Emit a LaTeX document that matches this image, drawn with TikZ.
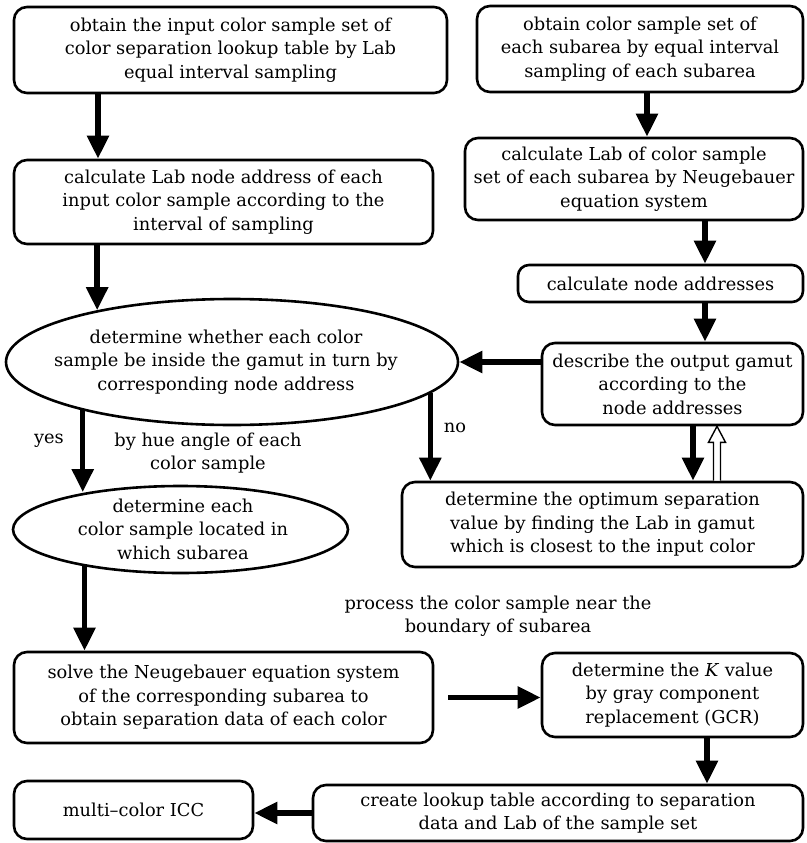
\documentclass[tikz,border=0pt]{standalone}
\usepackage{fontspec}
\setmainfont{DejaVu Serif}
\usetikzlibrary{shapes.geometric,arrows.meta,calc}
\begin{document}
\begin{tikzpicture}[x=1pt,y=-1pt,
  txt/.style={font=\fontsize{17.8}{23.5}\selectfont},
  box/.style={txt, draw, line width=2.6pt, rounded corners=13pt, align=center, inner sep=0pt},
  oval/.style={draw, ellipse, line width=2.6pt, inner sep=0pt},
  arr/.style={line width=5.5pt, -{Triangle[length=23pt,width=21pt]}},
  lbl/.style={txt, align=center, inner sep=0pt}]
\useasboundingbox (0,0) rectangle (806,843);

% nodes
\node[box, minimum width=433pt, minimum height=86pt] (A) at (230.5,50)
  {obtain the input color sample set of\\color separation lookup table by Lab\\equal interval sampling};
\node[box, minimum width=326pt, minimum height=86pt] (B) at (640,49)
  {obtain color sample set of\\each subarea by equal interval\\sampling of each subarea};
\node[box, minimum width=419pt, minimum height=84pt] (C) at (223.5,202)
  {calculate Lab node address of each\\input color sample according to the\\interval of sampling};
\node[box, minimum width=338pt, minimum height=82pt] (D) at (634,179)
  {calculate Lab of color sample\\set of each subarea by Neugebauer\\equation system};
\node[box, minimum width=285pt, minimum height=37pt, rounded corners=11pt] (E) at (660.5,283.5)
  {calculate node addresses};
\node[oval, minimum width=452pt, minimum height=126pt] (F) at (232,362) {};
\node[lbl] (Ft) at (226,362)
  {determine whether each color\\sample be inside the gamut in turn by\\corresponding node address};
\node[box, minimum width=261pt, minimum height=82pt] (G) at (672.5,384)
  {describe the output gamut\\according to the\\node addresses};
\node[box, minimum width=401pt, minimum height=85pt] (H) at (602.5,524.5)
  {determine the optimum separation\\value by finding the Lab in gamut\\which is closest to the input color};
\node[oval, minimum width=335pt, minimum height=87pt] (I) at (180.5,529.5) {};
\node[lbl] (It) at (183,529)
  {determine each\\color sample located in\\which subarea};
\node[box, minimum width=419pt, minimum height=91pt] (J) at (223.5,697.5)
  {solve the Neugebauer equation system\\of the corresponding subarea to\\obtain separation data of each color};
\node[box, minimum width=261pt, minimum height=84pt] (K) at (672.5,695)
  {determine the \textit{K} value\\by gray component\\replacement (GCR)};
\node[box, minimum width=490pt, minimum height=56pt] (L) at (558,813)
  {create lookup table according to separation\\data and Lab of the sample set};
\node[box, minimum width=239pt, minimum height=58pt] (M) at (133.5,810)
  {multi--color ICC};

% labels
\node[lbl] (yes) at (49,441) {yes};
\node[lbl] (hue) at (208,453) {by hue angle of each\\color sample};
\node[lbl] (no) at (455,428) {no};
\node[lbl] (proc) at (498,616) {process the color sample near the\\boundary of subarea};

% helper x positions
\coordinate (xa) at (98,0);
\coordinate (xb) at (647,0);
\coordinate (xr) at (705,0);
\coordinate (xf) at (693,0);
\coordinate (xh) at (717,0);
\coordinate (xk) at (707,0);

% connectors
\draw[arr] (xa |- A.south) -- (xa |- C.north);
\draw[arr] (F.159.3 |- C.south) -- (F.159.3);
\draw[arr] (xb |- B.south) -- (xb |- D.north);
\draw[arr] (xr |- D.south) -- (xr |- E.north);
\draw[arr] (xr |- E.south) -- (xr |- G.north);
\draw[arr] (G.west |- F.east) -- (F.east);
\draw[arr] (F.198.8) -- (F.198.8 |- I.158.3);
\draw[arr] (F.351.7) -- (F.351.7 |- H.north);
\draw[arr] (xf |- G.south) -- (xf |- H.north);
\draw[line width=1.4pt, fill=white] let \p1=(xh |- H.north), \p2=(xh |- G.south) in
  (\x1-3.5pt,\y1) -- (\x1-3.5pt,\y2-16pt) -- (\x1-8.5pt,\y2-16pt) -- (\x2,\y2)
  -- (\x1+8.5pt,\y2-16pt) -- (\x1+3.5pt,\y2-16pt) -- (\x1+3.5pt,\y1);
\draw[arr] (I.201.1) -- (I.201.1 |- J.north);
\draw[arr, shorten <=14pt] (J.east) -- (J.east -| K.west);
\draw[arr] (xk |- K.south) -- (xk |- L.north);
\draw[arr] (L.west) -- (L.west -| M.east);
\end{tikzpicture}
\end{document}
